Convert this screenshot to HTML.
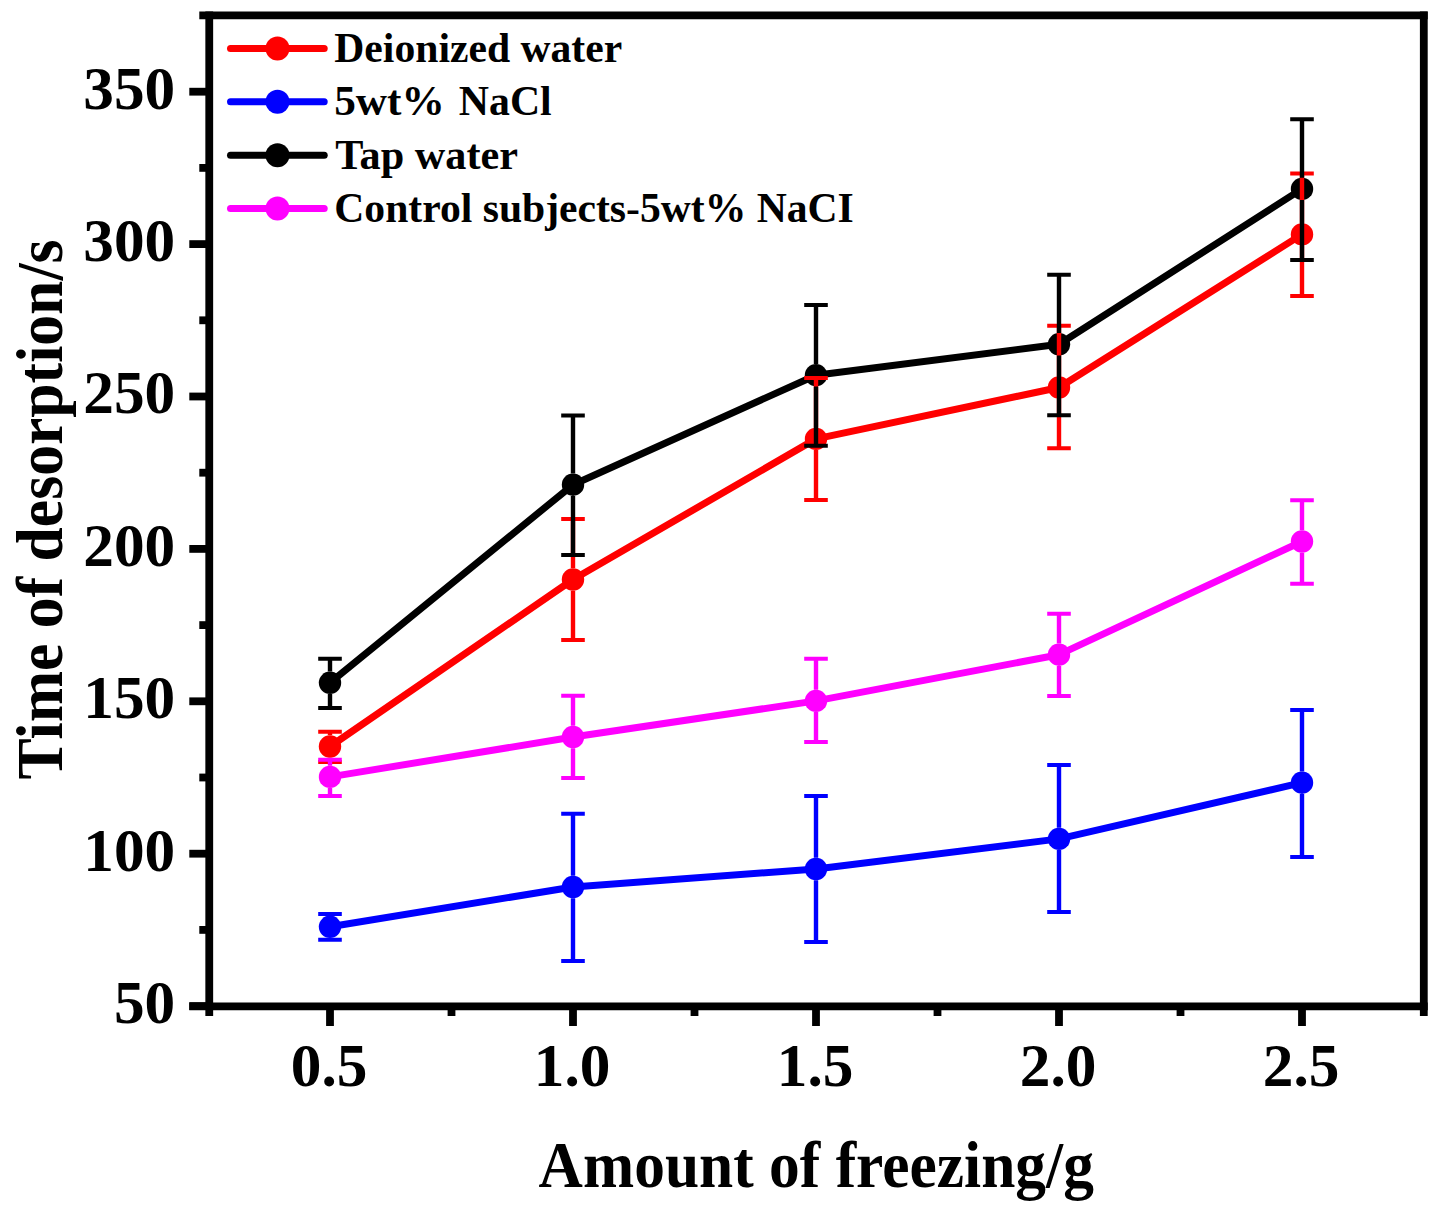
<!DOCTYPE html><html><head><meta charset="utf-8"><style>html,body{margin:0;padding:0;background:#fff;overflow:hidden;}svg{display:block;}text{font-family:"Liberation Serif",serif;font-weight:bold;fill:#000;}</style></head><body>
<svg width="1438" height="1217" viewBox="0 0 1438 1217">
<rect width="1438" height="1217" fill="#fff"/>
<polyline points="330.0,746.5 573.0,579.5 816.0,438.9 1059.0,387.5 1302.0,234.4" fill="none" stroke="#ff0000" stroke-width="7" stroke-linejoin="round"/>
<circle cx="330.0" cy="746.5" r="11.2" fill="#ff0000"/>
<circle cx="573.0" cy="579.5" r="11.2" fill="#ff0000"/>
<circle cx="816.0" cy="438.9" r="11.2" fill="#ff0000"/>
<circle cx="1059.0" cy="387.5" r="11.2" fill="#ff0000"/>
<circle cx="1302.0" cy="234.4" r="11.2" fill="#ff0000"/>
<polyline points="330.0,926.8 573.0,887.0 816.0,869.0 1059.0,838.9 1302.0,782.7" fill="none" stroke="#0000ff" stroke-width="7" stroke-linejoin="round"/>
<circle cx="330.0" cy="926.8" r="11.2" fill="#0000ff"/>
<circle cx="573.0" cy="887.0" r="11.2" fill="#0000ff"/>
<circle cx="816.0" cy="869.0" r="11.2" fill="#0000ff"/>
<circle cx="1059.0" cy="838.9" r="11.2" fill="#0000ff"/>
<circle cx="1302.0" cy="782.7" r="11.2" fill="#0000ff"/>
<polyline points="330.0,682.8 573.0,484.7 816.0,375.2 1059.0,344.3 1302.0,188.9" fill="none" stroke="#000000" stroke-width="7" stroke-linejoin="round"/>
<circle cx="330.0" cy="682.8" r="11.2" fill="#000000"/>
<circle cx="573.0" cy="484.7" r="11.2" fill="#000000"/>
<circle cx="816.0" cy="375.2" r="11.2" fill="#000000"/>
<circle cx="1059.0" cy="344.3" r="11.2" fill="#000000"/>
<circle cx="1302.0" cy="188.9" r="11.2" fill="#000000"/>
<polyline points="330.0,776.9 573.0,737.0 816.0,700.9 1059.0,654.7 1302.0,541.5" fill="none" stroke="#ff00ff" stroke-width="7" stroke-linejoin="round"/>
<circle cx="330.0" cy="776.9" r="11.2" fill="#ff00ff"/>
<circle cx="573.0" cy="737.0" r="11.2" fill="#ff00ff"/>
<circle cx="816.0" cy="700.9" r="11.2" fill="#ff00ff"/>
<circle cx="1059.0" cy="654.7" r="11.2" fill="#ff00ff"/>
<circle cx="1302.0" cy="541.5" r="11.2" fill="#ff00ff"/>
<path d="M330.0,731.8V735.3M330.0,757.7V761.9M573.0,519.0V568.3M573.0,590.7V640.0M816.0,378.0V427.7M816.0,450.1V499.9M1059.0,325.7V376.3M1059.0,398.7V448.3M1302.0,173.5V223.2M1302.0,245.6V296.0" fill="none" stroke="#ff0000" stroke-width="4.4"/>
<path d="M318.2,731.8H341.8M318.2,761.9H341.8M561.2,519.0H584.8M561.2,640.0H584.8M804.2,378.0H827.8M804.2,499.9H827.8M1047.2,325.7H1070.8M1047.2,448.3H1070.8M1290.2,173.5H1313.8M1290.2,296.0H1313.8" fill="none" stroke="#ff0000" stroke-width="4.0"/>
<path d="M330.0,914.0V915.6M330.0,938.0V939.8M573.0,813.8V875.8M573.0,898.2V961.0M816.0,796.0V857.8M816.0,880.2V942.0M1059.0,765.0V827.7M1059.0,850.1V911.9M1302.0,710.0V771.5M1302.0,793.9V857.0" fill="none" stroke="#0000ff" stroke-width="4.4"/>
<path d="M318.2,914.0H341.8M318.2,939.8H341.8M561.2,813.8H584.8M561.2,961.0H584.8M804.2,796.0H827.8M804.2,942.0H827.8M1047.2,765.0H1070.8M1047.2,911.9H1070.8M1290.2,710.0H1313.8M1290.2,857.0H1313.8" fill="none" stroke="#0000ff" stroke-width="4.0"/>
<path d="M330.0,658.8V671.6M330.0,694.0V708.0M573.0,415.6V473.5M573.0,495.9V555.0M816.0,305.0V364.0M816.0,386.4V445.7M1059.0,274.7V333.1M1059.0,355.5V415.3M1302.0,119.2V177.7M1302.0,200.1V259.9" fill="none" stroke="#000000" stroke-width="4.4"/>
<path d="M318.2,658.8H341.8M318.2,708.0H341.8M561.2,415.6H584.8M561.2,555.0H584.8M804.2,305.0H827.8M804.2,445.7H827.8M1047.2,274.7H1070.8M1047.2,415.3H1070.8M1290.2,119.2H1313.8M1290.2,259.9H1313.8" fill="none" stroke="#000000" stroke-width="4.0"/>
<path d="M330.0,759.7V765.7M330.0,788.1V796.0M573.0,695.8V725.8M573.0,748.2V777.9M816.0,658.7V689.7M816.0,712.1V742.0M1059.0,613.8V643.5M1059.0,665.9V696.0M1302.0,500.2V530.3M1302.0,552.7V583.7" fill="none" stroke="#ff00ff" stroke-width="4.4"/>
<path d="M318.2,759.7H341.8M318.2,796.0H341.8M561.2,695.8H584.8M561.2,777.9H584.8M804.2,658.7H827.8M804.2,742.0H827.8M1047.2,613.8H1070.8M1047.2,696.0H1070.8M1290.2,500.2H1313.8M1290.2,583.7H1313.8" fill="none" stroke="#ff00ff" stroke-width="4.0"/>
<g stroke="#000" stroke-width="7.8" fill="none">
<path d="M209.25,11.5V1016"/>
<path d="M1423.8,11.5V1016"/>
<path d="M199.3,15.4H1427.7"/>
<path d="M189.3,1006.4H1427.7"/>
<path d="M189.3,91.7H209"/>
<path d="M189.3,244.1H209"/>
<path d="M189.3,396.5H209"/>
<path d="M189.3,548.9H209"/>
<path d="M189.3,701.3H209"/>
<path d="M189.3,853.7H209"/>
<path d="M189.3,1006.1H209"/>
<path d="M199.3,167.9H209"/>
<path d="M199.3,320.3H209"/>
<path d="M199.3,472.7H209"/>
<path d="M199.3,625.1H209"/>
<path d="M199.3,777.5H209"/>
<path d="M199.3,929.9H209"/>
<path d="M330.0,1006H330.0V1026"/>
<path d="M573.0,1006H573.0V1026"/>
<path d="M816.0,1006H816.0V1026"/>
<path d="M1059.0,1006H1059.0V1026"/>
<path d="M1302.0,1006H1302.0V1026"/>
<path d="M451.5,1006V1016"/>
<path d="M694.5,1006V1016"/>
<path d="M937.5,1006V1016"/>
<path d="M1180.5,1006V1016"/>
</g>
<text x="175.2" y="108.6" font-size="61.3" text-anchor="end">350</text>
<text x="175.2" y="261.0" font-size="61.3" text-anchor="end">300</text>
<text x="175.2" y="413.4" font-size="61.3" text-anchor="end">250</text>
<text x="175.2" y="565.8" font-size="61.3" text-anchor="end">200</text>
<text x="175.2" y="718.2" font-size="61.3" text-anchor="end">150</text>
<text x="175.2" y="870.6" font-size="61.3" text-anchor="end">100</text>
<text x="175.2" y="1023.0" font-size="61.3" text-anchor="end">50</text>
<text x="329.1" y="1086.3" font-size="61.3" text-anchor="middle">0.5</text>
<text x="572.1" y="1086.3" font-size="61.3" text-anchor="middle">1.0</text>
<text x="815.1" y="1086.3" font-size="61.3" text-anchor="middle">1.5</text>
<text x="1058.1" y="1086.3" font-size="61.3" text-anchor="middle">2.0</text>
<text x="1301.1" y="1086.3" font-size="61.3" text-anchor="middle">2.5</text>
<text x="538.6" y="1187.4" font-size="65.8" textLength="555.3" lengthAdjust="spacingAndGlyphs">Amount of freezing/g</text>
<text transform="translate(61.5,779.5) rotate(-90)" font-size="65" textLength="540" lengthAdjust="spacingAndGlyphs">Time of desorption/s</text>
<line x1="230.5" y1="48.40" x2="324.2" y2="48.40" stroke="#ff0000" stroke-width="7" stroke-linecap="round"/>
<circle cx="277.5" cy="48.40" r="12" fill="#ff0000"/>
<text x="334.3" y="61.7" font-size="41.8" textLength="287.9" lengthAdjust="spacingAndGlyphs" xml:space="preserve">Deionized water</text>
<line x1="230.5" y1="101.77" x2="324.2" y2="101.77" stroke="#0000ff" stroke-width="7" stroke-linecap="round"/>
<circle cx="277.5" cy="101.77" r="12" fill="#0000ff"/>
<text x="334.2" y="114.6" font-size="41.8" textLength="110.6" lengthAdjust="spacingAndGlyphs">5wt%</text>
<text x="458.8" y="114.6" font-size="41.8">NaCl</text>
<line x1="230.5" y1="155.14" x2="324.2" y2="155.14" stroke="#000000" stroke-width="7" stroke-linecap="round"/>
<circle cx="277.5" cy="155.14" r="12" fill="#000000"/>
<text x="335.3" y="168.6" font-size="41.8" textLength="182.7" lengthAdjust="spacingAndGlyphs" xml:space="preserve">Tap water</text>
<line x1="230.5" y1="208.51" x2="324.2" y2="208.51" stroke="#ff00ff" stroke-width="7" stroke-linecap="round"/>
<circle cx="277.5" cy="208.51" r="12" fill="#ff00ff"/>
<text x="334.3" y="221.6" font-size="41.8" textLength="519.5" lengthAdjust="spacingAndGlyphs" xml:space="preserve">Control subjects-5wt% NaCI</text>
</svg></body></html>
